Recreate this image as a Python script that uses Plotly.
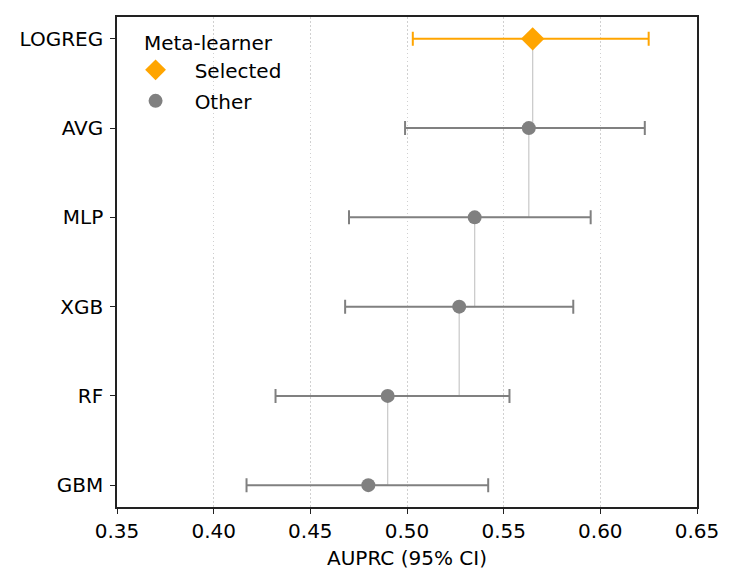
import plotly.graph_objects as go

models = ["LOGREG", "AVG", "MLP", "XGB", "RF", "GBM"]
auprc = [0.565, 0.563, 0.535, 0.527, 0.490, 0.480]
ci_low = [0.503, 0.499, 0.470, 0.468, 0.432, 0.417]
ci_high = [0.625, 0.623, 0.595, 0.586, 0.553, 0.542]
selected = "LOGREG"

ORANGE = "#FFA500"
GRAY = "#808080"
FS = 20
NB = "\u00a0"

fig = go.Figure()

# connecting step line
fig.add_trace(go.Scatter(
    x=auprc, y=models, mode="lines", line=dict(color="#cccccc", width=1.3, shape="vh"),
    showlegend=False, hoverinfo="skip"))

def add_group(names, color, symbol, size, label, group):
    idx = [models.index(n) for n in names]
    xs = [auprc[i] for i in idx]
    fig.add_trace(go.Scatter(
        x=xs, y=names, mode="markers", name=NB * 3 + label, legendgroup=group,
        marker=dict(color=color, symbol=symbol, size=size, line=dict(width=0)),
        error_x=dict(type="data", symmetric=False,
                     array=[ci_high[i] - auprc[i] for i in idx],
                     arrayminus=[auprc[i] - ci_low[i] for i in idx],
                     color=color, thickness=2, width=7)))

add_group([m for m in models if m == selected], ORANGE, "diamond", 18, "Selected", "a")
add_group([m for m in models if m != selected], GRAY, "circle", 14, "Other", "b")

axis_common = dict(showline=True, mirror=True, linecolor="#222222", linewidth=1.5,
                   ticks="outside", ticklen=5, tickwidth=1.3, tickcolor="#222222",
                   zeroline=False, tickfont=dict(size=FS, family="DejaVu Sans", color="black"))

fig.update_layout(
    width=735, height=585,
    margin=dict(l=109, r=46, t=7, b=86),
    paper_bgcolor="white", plot_bgcolor="white",
    font=dict(family="DejaVu Sans", size=FS, color="black"),
    xaxis=dict(range=[0.35, 0.65], tickvals=[0.35, 0.40, 0.45, 0.50, 0.55, 0.60, 0.65],
               ticktext=["0.35", "0.40", "0.45", "0.50", "0.55", "0.60", "0.65"],
               showgrid=True, gridcolor="#d0d0d0", gridwidth=1, griddash="1.5px,2.5px",
               title=dict(text="AUPRC (95% CI)", standoff=9, font=dict(size=FS)), **axis_common),
    yaxis=dict(type="category", categoryorder="array", categoryarray=models,
               range=[5.245, -0.245], showgrid=False, ticklabelstandoff=3, **axis_common),
    legend=dict(title=dict(text=NB + "Meta-learner", font=dict(size=FS)), font=dict(size=FS),
                x=0.032, y=0.985, xanchor="left", yanchor="top",
                bgcolor="rgba(255,255,255,0)", tracegroupgap=2, itemsizing="trace"),
)

fig.write_html("out.html")
